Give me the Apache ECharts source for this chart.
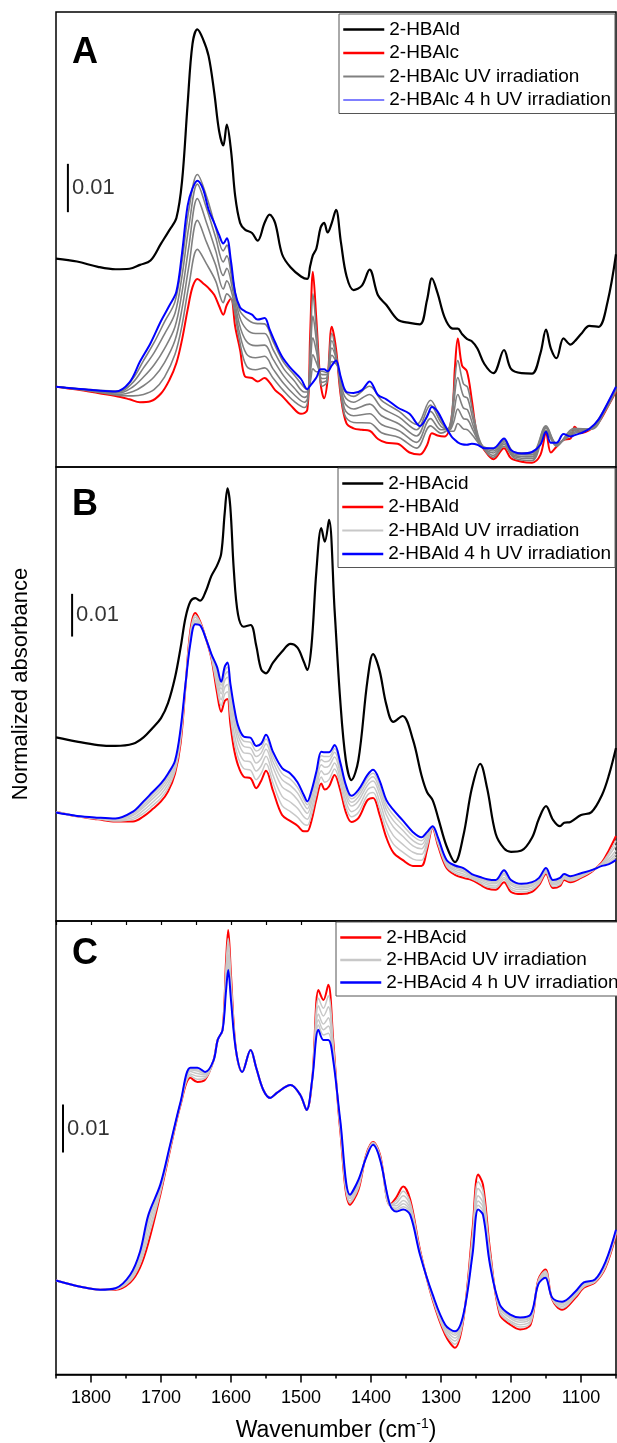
<!DOCTYPE html>
<html>
<head>
<meta charset="utf-8">
<title>UV irradiation spectra</title>
<script src="https://cdn.jsdelivr.net/npm/echarts@6/dist/echarts.min.js"></script>
<style>
  html, body { margin: 0; padding: 0; background: #fff; }
  #chart { width: 617px; height: 1443px; }
</style>
</head>
<body>
<div id="chart"></div>
<script>
// absorbance values are in units of 0.001 (the scale bar is 0.01)
const tickLabels = [1800, 1700, 1600, 1500, 1400, 1300, 1200, 1100];

// panel A
const waveA = [1850, 1820, 1790, 1765, 1745, 1730, 1715, 1700, 1688, 1678, 1670, 1662, 1655, 1648, 1640, 1632, 1624, 1617, 1611, 1606,
  1600, 1594, 1587, 1580, 1570, 1562, 1552, 1545, 1537, 1527, 1515, 1500, 1491, 1487, 1483, 1478, 1472, 1467, 1462, 1456,
  1450, 1443, 1435, 1425, 1413, 1402, 1390, 1378, 1362, 1345, 1330, 1320, 1313, 1305, 1295, 1285, 1280, 1276, 1270, 1263,
  1256, 1248, 1238, 1225, 1210, 1200, 1185, 1170, 1158, 1150, 1143, 1135, 1125, 1115, 1109, 1100, 1088, 1075, 1062, 1050];
const aAld = [43.1, 42.5, 41.4, 40.9, 41.0, 41.8, 42.7, 46.2, 49.0, 51.5, 59.0, 75.0, 87.5, 90.5, 88.5, 85.0, 77.5, 69.5, 66.5, 70.8,
  65.5, 56.0, 50.5, 49.1, 48.4, 46.8, 50.5, 52.2, 50.5, 44.0, 41.3, 39.4, 38.9, 41.5, 43.8, 45.2, 49.5, 50.5, 48.5, 50.5,
  53.2, 46.5, 39.5, 36.6, 37.5, 40.8, 35.5, 33.5, 30.5, 29.8, 29.5, 34.5, 39.0, 36.0, 31.0, 28.7, 28.6, 28.6, 27.5, 26.5,
  26.0, 24.5, 21.3, 19.4, 24.2, 20.3, 19.4, 19.3, 23.5, 28.4, 24.5, 22.5, 26.6, 25.3, 26.0, 27.5, 29.2, 29.0, 34.2, 44.0];
const aAlc = [16.6, 16.0, 15.3, 14.7, 14.0, 13.4, 13.6, 15.2, 18.0, 21.5, 26.3, 32.5, 37.2, 38.9, 38.0, 37.0, 35.6, 33.3, 31.5, 33.5,
  34.8, 29.0, 24.2, 18.7, 18.4, 17.7, 18.4, 17.5, 15.9, 14.7, 12.8, 11.0, 11.8, 27.0, 40.4, 30.4, 17.3, 14.2, 18.0, 29.0,
  24.5, 14.5, 9.0, 8.0, 7.7, 7.5, 5.8, 5.0, 4.8, 3.0, 2.6, 4.5, 7.0, 6.5, 6.3, 10.0, 20.8, 26.6, 21.0, 19.8,
  13.9, 6.3, 3.5, 1.6, 3.9, 1.8, 1.1, 0.9, 2.5, 7.0, 3.0, 4.2, 5.6, 5.9, 8.3, 7.0, 7.6, 9.2, 12.4, 15.6];
const aAlc4h = [16.6, 16.2, 15.8, 15.6, 17.5, 21.8, 25.6, 30.2, 33.4, 36.3, 44.2, 54.0, 57.6, 59.2, 57.5, 53.2, 50.5, 48.0, 46.2, 47.3,
  42.5, 36.0, 33.0, 32.2, 31.5, 30.5, 30.8, 28.5, 25.8, 22.8, 20.5, 18.2, 16.1, 16.8, 17.5, 18.5, 20.2, 20.2, 19.8, 21.0,
  22.0, 18.5, 15.5, 15.3, 15.9, 17.7, 14.9, 14.0, 12.3, 11.0, 8.5, 10.4, 12.4, 11.5, 8.8, 6.3, 5.6, 5.1, 4.7, 4.6,
  4.8, 4.6, 3.9, 3.9, 5.9, 3.5, 2.8, 3.1, 4.6, 7.3, 5.0, 5.0, 6.8, 6.3, 6.6, 7.0, 7.9, 9.8, 13.2, 16.6];

// panel A, intermediate irradiation times
const waveAg = [1850, 1800, 1760, 1740, 1725, 1710, 1695, 1680, 1670, 1660, 1648, 1635, 1622, 1611, 1606, 1598, 1588, 1578, 1565, 1552,
  1540, 1525, 1510, 1495, 1490, 1486, 1483, 1478, 1470, 1463, 1456, 1448, 1438, 1425, 1402, 1385, 1360, 1335, 1315, 1300,
  1288, 1282, 1276, 1268, 1262, 1254, 1243, 1225, 1210, 1195, 1170, 1150, 1135, 1110, 1085, 1065, 1050];
const aUv1 = [16.6, 15.7, 14.8, 14.7, 15.0, 16.0, 18.6, 23.3, 29.3, 37.7, 45.0, 42.0, 38.5, 34.0, 35.8, 34.2, 26.3, 20.9, 20.1, 20.5,
  18.4, 15.8, 13.6, 12.3, 14.0, 27.8, 35.8, 28.4, 16.7, 17.5, 27.6, 21.4, 10.9, 9.2, 9.1, 7.1, 6.1, 3.9, 8.5, 7.0,
  8.3, 15.2, 22.0, 17.2, 16.5, 11.0, 4.9, 2.0, 4.3, 1.8, 1.3, 7.3, 4.3, 8.0, 7.8, 11.7, 15.8];
const aUv2 = [16.6, 15.8, 15.0, 15.6, 16.8, 18.6, 21.6, 26.2, 32.7, 41.7, 51.0, 46.5, 41.8, 36.8, 38.5, 35.5, 27.9, 23.4, 22.6, 22.9,
  20.3, 17.3, 15.0, 13.4, 14.5, 25.3, 31.2, 26.1, 17.5, 18.0, 26.1, 21.3, 12.1, 10.6, 11.0, 8.8, 7.5, 5.1, 10.0, 7.7,
  8.0, 13.1, 18.5, 14.7, 14.2, 9.7, 4.8, 2.4, 4.7, 2.1, 1.7, 7.6, 4.5, 7.8, 7.9, 11.9, 16.0];
const aUv3 = [16.6, 15.9, 15.3, 16.6, 18.6, 21.1, 24.5, 29.0, 36.1, 45.8, 55.5, 50.5, 44.8, 39.6, 41.1, 36.9, 29.5, 26.0, 25.1, 25.2,
  22.3, 18.9, 16.4, 14.4, 15.0, 22.8, 26.7, 23.9, 18.3, 18.5, 24.6, 21.2, 13.4, 12.0, 13.0, 10.6, 8.9, 6.4, 11.5, 8.4,
  7.8, 11.0, 15.0, 12.2, 11.8, 8.5, 4.7, 2.9, 5.0, 2.4, 2.1, 8.0, 4.6, 7.5, 7.9, 12.0, 16.2];
const aUv4 = [16.6, 15.9, 15.5, 17.5, 20.5, 23.6, 27.5, 31.8, 39.5, 49.9, 58.5, 53.5, 47.5, 42.4, 43.7, 38.2, 31.2, 28.5, 27.6, 27.6,
  24.3, 20.4, 17.9, 15.5, 15.5, 20.3, 23.2, 21.6, 19.1, 19.1, 23.1, 21.1, 14.7, 13.4, 15.0, 12.3, 10.3, 7.7, 12.8, 9.2,
  7.6, 9.2, 12.0, 10.0, 9.8, 7.5, 4.6, 3.3, 5.4, 2.7, 2.5, 8.3, 4.8, 7.2, 8.0, 12.2, 16.4];
const aUv5 = [16.6, 16.0, 15.7, 18.3, 22.0, 25.7, 30.0, 34.2, 42.4, 53.4, 60.5, 56.0, 49.5, 44.7, 45.9, 39.3, 32.5, 30.7, 29.7, 29.6,
  26.0, 21.7, 19.1, 16.4, 15.9, 18.2, 20.3, 19.7, 19.8, 19.5, 21.8, 21.0, 15.8, 14.6, 16.7, 13.8, 11.5, 8.8, 13.8, 9.8,
  7.4, 7.4, 9.0, 7.9, 7.7, 6.4, 4.5, 3.7, 5.7, 3.0, 2.9, 8.5, 4.9, 6.9, 8.1, 12.4, 16.5];

// panel B (all curves share this grid)
const waveB = [1850, 1820, 1790, 1765, 1740, 1725, 1712, 1700, 1690, 1680, 1672, 1665, 1658, 1651, 1644, 1636, 1628, 1620, 1614, 1609,
  1605, 1601, 1596, 1590, 1582, 1572, 1564, 1557, 1550, 1540, 1527, 1515, 1505, 1496, 1491, 1485, 1478, 1471, 1466, 1460,
  1452, 1444, 1436, 1428, 1418, 1405, 1397, 1388, 1378, 1368, 1355, 1340, 1328, 1320, 1312, 1304, 1292, 1280, 1268, 1256,
  1244, 1234, 1222, 1210, 1200, 1185, 1170, 1160, 1150, 1140, 1130, 1124, 1115, 1100, 1085, 1070, 1060, 1050];
const bAcid = [43.0, 42.0, 41.2, 41.0, 41.5, 43.0, 45.2, 47.5, 51.0, 57.0, 64.0, 71.0, 74.8, 75.6, 75.0, 77.2, 80.8, 83.2, 86.0, 95.5,
  101.3, 97.0, 82.2, 71.8, 68.9, 69.3, 64.5, 59.0, 58.0, 60.5, 63.1, 64.9, 64.0, 60.7, 58.8, 64.5, 82.0, 92.0, 88.8, 93.9,
  72.8, 51.8, 37.7, 33.0, 37.7, 56.4, 62.5, 58.8, 50.6, 46.6, 48.0, 42.4, 34.2, 30.2, 28.3, 24.1, 17.5, 13.8, 20.0, 31.0,
  36.8, 31.0, 20.5, 17.0, 16.2, 16.5, 19.5, 24.0, 26.9, 23.7, 22.2, 23.0, 23.2, 24.8, 25.5, 29.5, 34.2, 40.5];
const bAld = [25.6, 24.5, 23.8, 23.3, 23.3, 24.5, 26.2, 28.0, 30.3, 34.5, 41.6, 54.9, 68.1, 72.1, 70.1, 66.2, 61.5, 53.5, 49.0, 51.5,
  52.0, 46.3, 40.5, 36.5, 33.8, 33.4, 31.1, 32.8, 35.2, 30.5, 24.8, 23.4, 22.3, 21.0, 21.0, 23.5, 28.5, 32.2, 30.8, 31.5,
  34.2, 30.7, 25.5, 23.2, 24.1, 28.3, 28.8, 25.0, 19.5, 16.0, 14.3, 12.9, 12.9, 16.6, 21.8, 17.5, 12.4, 10.8, 10.1, 9.6,
  8.5, 7.6, 7.3, 9.1, 6.8, 6.3, 6.8, 8.4, 11.0, 7.7, 8.2, 9.6, 9.1, 10.1, 11.5, 13.8, 16.6, 19.9];
const bAld4h = [25.4, 24.6, 24.2, 24.0, 25.6, 28.0, 30.2, 32.2, 34.5, 37.5, 45.0, 55.5, 65.0, 69.5, 69.2, 66.2, 62.5, 59.5, 56.0, 59.5,
  60.5, 55.7, 50.5, 45.8, 43.2, 42.9, 41.0, 41.5, 43.6, 39.6, 35.8, 34.5, 32.5, 29.5, 28.0, 30.5, 35.0, 39.6, 39.5, 39.5,
  41.2, 37.2, 31.9, 29.3, 30.7, 34.2, 35.4, 33.0, 28.3, 26.0, 23.6, 20.8, 19.6, 20.8, 22.2, 19.4, 14.3, 13.0, 12.4, 11.0,
  10.3, 9.8, 9.6, 11.9, 9.6, 8.7, 9.1, 10.1, 12.4, 9.6, 10.1, 11.0, 10.5, 11.2, 11.9, 12.9, 13.3, 14.3];
const bUv1 = [25.6, 24.5, 23.9, 23.4, 23.8, 25.2, 27.0, 28.8, 31.1, 35.1, 42.3, 55.0, 67.5, 71.6, 69.9, 66.2, 61.7, 54.7, 50.4, 53.1,
  53.7, 48.2, 42.5, 38.4, 35.7, 35.3, 33.1, 34.5, 36.9, 32.3, 27.0, 25.6, 24.3, 22.7, 22.4, 24.9, 29.8, 33.7, 32.5, 33.1,
  35.6, 32.0, 26.8, 24.4, 25.4, 29.5, 30.1, 26.6, 21.3, 18.0, 16.2, 14.5, 14.2, 17.4, 21.9, 17.9, 12.8, 11.2, 10.6, 9.9,
  8.9, 8.0, 7.8, 9.7, 7.4, 6.8, 7.3, 8.7, 11.3, 8.1, 8.6, 9.9, 9.4, 10.3, 11.6, 13.6, 15.9, 18.8];
const bUv2 = [25.5, 24.5, 24.0, 23.6, 24.2, 25.9, 27.8, 29.7, 32.0, 35.7, 43.0, 55.1, 66.9, 71.1, 69.7, 66.2, 61.9, 55.9, 51.8, 54.7,
  55.4, 50.1, 44.5, 40.2, 37.6, 37.2, 35.1, 36.3, 38.6, 34.1, 29.2, 27.8, 26.4, 24.4, 23.8, 26.3, 31.1, 35.2, 34.3, 34.7,
  37.0, 33.3, 28.1, 25.6, 26.7, 30.7, 31.4, 28.2, 23.0, 20.0, 18.0, 16.1, 15.6, 18.3, 22.0, 18.3, 13.2, 11.7, 11.0, 10.2,
  9.2, 8.5, 8.2, 10.2, 7.9, 7.3, 7.7, 9.1, 11.6, 8.5, 9.0, 10.2, 9.7, 10.5, 11.7, 13.4, 15.3, 17.7];
const bUv3 = [25.5, 24.6, 24.0, 23.7, 24.7, 26.6, 28.6, 30.5, 32.8, 36.3, 43.6, 55.3, 66.2, 70.5, 69.6, 66.2, 62.1, 57.1, 53.2, 56.3,
  57.1, 51.9, 46.5, 42.1, 39.4, 39.1, 37.0, 38.0, 40.2, 36.0, 31.4, 30.1, 28.4, 26.1, 25.2, 27.7, 32.4, 36.6, 36.0, 36.3,
  38.4, 34.6, 29.3, 26.9, 28.1, 31.8, 32.8, 29.8, 24.8, 22.0, 19.9, 17.6, 16.9, 19.1, 22.0, 18.6, 13.5, 12.1, 11.5, 10.4,
  9.6, 8.9, 8.7, 10.8, 8.5, 7.7, 8.2, 9.4, 11.8, 8.8, 9.3, 10.4, 9.9, 10.8, 11.7, 13.3, 14.6, 16.5];
const bUv4 = [25.5, 24.6, 24.1, 23.8, 25.0, 27.1, 29.2, 31.2, 33.5, 36.8, 44.2, 55.4, 65.8, 70.1, 69.4, 66.2, 62.3, 58.0, 54.3, 57.5,
  58.4, 53.4, 48.0, 43.5, 40.9, 40.5, 38.5, 39.3, 41.5, 37.3, 33.1, 31.7, 30.0, 27.4, 26.3, 28.8, 33.4, 37.8, 37.3, 37.5,
  39.5, 35.6, 30.3, 27.8, 29.1, 32.7, 33.8, 31.0, 26.1, 23.5, 21.3, 18.8, 17.9, 19.8, 22.1, 18.9, 13.8, 12.5, 11.8, 10.7,
  9.9, 9.3, 9.0, 11.2, 8.9, 8.1, 8.5, 9.7, 12.1, 9.1, 9.6, 10.7, 10.2, 10.9, 11.8, 13.1, 14.1, 15.7];
const bUv5 = [25.4, 24.6, 24.2, 23.9, 25.3, 27.6, 29.7, 31.7, 34.0, 37.1, 44.6, 55.4, 65.4, 69.8, 69.3, 66.2, 62.4, 58.8, 55.2, 58.5,
  59.5, 54.6, 49.3, 44.7, 42.1, 41.8, 39.8, 40.5, 42.6, 38.5, 34.5, 33.2, 31.3, 28.5, 27.2, 29.7, 34.2, 38.7, 38.5, 38.5,
  40.4, 36.4, 31.1, 28.6, 29.9, 33.5, 34.6, 32.0, 27.2, 24.8, 22.5, 19.9, 18.8, 20.3, 22.2, 19.2, 14.1, 12.7, 12.1, 10.8,
  10.1, 9.5, 9.3, 11.6, 9.3, 8.4, 8.8, 9.9, 12.2, 9.4, 9.9, 10.8, 10.3, 11.1, 11.9, 13.0, 13.7, 15.0];

// panel C (all curves share this grid)
const waveC = [1850, 1815, 1787, 1765, 1744, 1730, 1718, 1701, 1687, 1672, 1658, 1648, 1637, 1625, 1619, 1612, 1607, 1604, 1600, 1593,
  1584, 1572, 1564, 1554, 1544, 1534, 1515, 1501, 1492, 1484, 1475, 1468, 1461, 1454, 1444, 1430, 1418, 1407, 1397, 1387,
  1373, 1364, 1354, 1344, 1330, 1312, 1294, 1280, 1268, 1255, 1247, 1240, 1230, 1216, 1201, 1187, 1172, 1161, 1151, 1141,
  1127, 1108, 1096, 1080, 1065, 1050];
const cAcid = [19.6, 18.3, 17.7, 17.7, 19.2, 22.3, 27.5, 37.5, 46.9, 56.3, 61.9, 61.0, 61.5, 65.5, 69.8, 71.9, 86.5, 92.7, 83.3, 67.7,
  63.1, 67.7, 64.0, 59.4, 57.7, 58.8, 60.4, 58.3, 55.2, 61.5, 80.2, 78.1, 81.3, 69.8, 51.0, 35.4, 38.5, 45.8, 48.5, 45.8,
  35.4, 36.9, 39.2, 36.5, 26.0, 15.6, 8.3, 5.6, 11.5, 30.2, 41.7, 39.6, 26.0, 12.5, 10.4, 9.4, 10.4, 19.8, 21.9, 15.6,
  13.5, 16.0, 18.1, 19.2, 22.3, 29.2];
const cAcid4h = [19.6, 18.3, 17.7, 18.0, 20.8, 25.6, 33.3, 39.6, 47.9, 56.9, 64.0, 64.0, 63.1, 65.5, 69.8, 71.9, 80.2, 84.4, 78.1, 67.7,
  63.1, 67.7, 64.0, 59.4, 57.7, 58.8, 60.4, 58.3, 55.2, 61.5, 71.9, 69.8, 69.8, 65.6, 53.1, 37.5, 40.6, 45.2, 47.9, 44.8,
  35.4, 34.0, 34.4, 33.3, 25.0, 16.7, 10.4, 9.0, 12.5, 25.0, 34.4, 33.3, 22.9, 14.6, 12.5, 11.9, 12.5, 18.8, 20.2, 16.0,
  15.2, 17.3, 19.2, 19.8, 23.5, 30.2];
const cUv1 = [19.6, 18.3, 17.7, 17.8, 19.5, 23.0, 28.7, 37.9, 47.1, 56.4, 62.3, 61.6, 61.8, 65.5, 69.8, 71.9, 85.2, 91.0, 82.3, 67.7,
  63.1, 67.7, 64.0, 59.4, 57.7, 58.8, 60.4, 58.3, 55.2, 61.5, 78.5, 76.4, 79.0, 69.0, 51.4, 35.8, 38.9, 45.7, 48.4, 45.6,
  35.4, 36.3, 38.2, 35.9, 25.8, 15.8, 8.7, 6.3, 11.7, 29.2, 40.2, 38.3, 25.4, 12.9, 10.8, 9.9, 10.8, 19.6, 21.6, 15.7,
  13.8, 16.3, 18.3, 19.3, 22.5, 29.4];
const cUv2 = [19.6, 18.3, 17.7, 17.8, 19.8, 23.6, 29.8, 38.3, 47.3, 56.5, 62.7, 62.2, 62.1, 65.5, 69.8, 71.9, 84.0, 89.4, 81.2, 67.7,
  63.1, 67.7, 64.0, 59.4, 57.7, 58.8, 60.4, 58.3, 55.2, 61.5, 76.9, 74.8, 76.7, 68.1, 51.8, 36.2, 39.3, 45.6, 48.3, 45.4,
  35.4, 35.7, 37.3, 35.2, 25.6, 16.0, 9.1, 7.0, 11.9, 28.1, 38.8, 37.1, 24.8, 13.3, 11.2, 10.4, 11.2, 19.4, 21.2, 15.8,
  14.2, 16.5, 18.5, 19.4, 22.8, 29.6];
const cUv3 = [19.6, 18.3, 17.7, 17.9, 20.2, 24.3, 31.0, 38.8, 47.5, 56.7, 63.2, 62.8, 62.5, 65.5, 69.8, 71.9, 82.7, 87.7, 80.2, 67.7,
  63.1, 67.7, 64.0, 59.4, 57.7, 58.8, 60.4, 58.3, 55.2, 61.5, 75.2, 73.1, 74.4, 67.3, 52.3, 36.7, 39.8, 45.4, 48.1, 45.2,
  35.4, 35.2, 36.3, 34.6, 25.4, 16.3, 9.6, 7.6, 12.1, 27.1, 37.3, 35.8, 24.1, 13.8, 11.7, 10.9, 11.7, 19.2, 20.9, 15.8,
  14.5, 16.8, 18.8, 19.6, 23.0, 29.8];
const cUv4 = [19.6, 18.3, 17.7, 17.9, 20.4, 24.8, 31.9, 39.1, 47.7, 56.8, 63.5, 63.3, 62.7, 65.5, 69.8, 71.9, 81.8, 86.5, 79.4, 67.7,
  63.1, 67.7, 64.0, 59.4, 57.7, 58.8, 60.4, 58.3, 55.2, 61.5, 74.0, 71.9, 72.7, 66.7, 52.6, 37.0, 40.1, 45.4, 48.1, 45.1,
  35.4, 34.7, 35.6, 34.1, 25.3, 16.4, 9.9, 8.2, 12.3, 26.3, 36.2, 34.9, 23.7, 14.1, 12.0, 11.3, 12.0, 19.1, 20.6, 15.9,
  14.8, 17.0, 18.9, 19.7, 23.2, 30.0];
const cUv5 = [19.6, 18.3, 17.7, 18.0, 20.6, 25.2, 32.6, 39.3, 47.8, 56.8, 63.7, 63.6, 62.9, 65.5, 69.8, 71.9, 81.0, 85.4, 78.7, 67.7,
  63.1, 67.7, 64.0, 59.4, 57.7, 58.8, 60.4, 58.3, 55.2, 61.5, 72.9, 70.8, 71.2, 66.1, 52.8, 37.2, 40.3, 45.3, 48.0, 44.9,
  35.4, 34.3, 35.0, 33.7, 25.1, 16.6, 10.1, 8.6, 12.4, 25.6, 35.3, 34.1, 23.3, 14.3, 12.2, 11.6, 12.2, 18.9, 20.4, 16.0,
  15.0, 17.1, 19.1, 19.7, 23.4, 30.1];

// 0.01 scale bars: [wavenumber, lower end]
const barA = [1833, 52.7];
const barB = [1827, 66.6];
const barC = [1840, 46.3];
const yMax = [94.1, 106.3, 94.6];

const FONT = 'Liberation Sans, Arial, sans-serif';

function spectrum(name, wave, vals, panel, color, width) {
  return {
    type: 'line', name: name, xAxisIndex: panel, yAxisIndex: panel,
    data: wave.map(function (w, i) { return [w, vals[i]]; }),
    symbol: 'none', smooth: 0.35, silent: true,
    lineStyle: { color: color, width: width }, itemStyle: { color: color }
  };
}

function scaleBar(panel, bar) {
  return [{
    type: 'line', xAxisIndex: panel, yAxisIndex: panel, symbol: 'none', silent: true,
    data: [[bar[0], bar[1]], [bar[0], bar[1] + 10]],
    lineStyle: { color: '#000', width: 2 }
  }, {
    type: 'scatter', xAxisIndex: panel, yAxisIndex: panel, symbolSize: 0, silent: true,
    data: [[bar[0], bar[1] + 5]],
    label: { show: true, position: 'right', distance: 4, formatter: '0.01', fontSize: 22, color: '#000', fontFamily: FONT }
  }];
}

const GREY_A = '#808080', GREY = '#c8c8c8';
const series = [].concat(
  spectrum('A|2-HBAlc', waveA, aAlc, 0, '#ff0000', 2),
  [aUv1, aUv2, aUv3, aUv4, aUv5].map(function (v) { return spectrum('A|2-HBAlc UV irradiation', waveAg, v, 0, GREY_A, 1.6); }),
  spectrum('A|2-HBAlc 4 h UV irradiation', waveA, aAlc4h, 0, '#0000ff', 2),
  spectrum('A|2-HBAld', waveA, aAld, 0, '#000000', 2.2),
  spectrum('B|2-HBAld', waveB, bAld, 1, '#ff0000', 2),
  [bUv1, bUv2, bUv3, bUv4, bUv5].map(function (v) { return spectrum('B|2-HBAld UV irradiation', waveB, v, 1, GREY, 1.5); }),
  spectrum('B|2-HBAld 4 h UV irradiation', waveB, bAld4h, 1, '#0000ff', 2),
  spectrum('B|2-HBAcid', waveB, bAcid, 1, '#000000', 2.2),
  spectrum('C|2-HBAcid', waveC, cAcid, 2, '#ff0000', 2),
  [cUv1, cUv2, cUv3, cUv4, cUv5].map(function (v) { return spectrum('C|2-HBAcid UV irradiation', waveC, v, 2, GREY, 1.5); }),
  spectrum('C|2-HBAcid 4 h UV irradiation', waveC, cAcid4h, 2, '#0000ff', 2),
  scaleBar(0, barA), scaleBar(1, barB), scaleBar(2, barC)
);

function legendFor(top, left, gap, items) {
  return {
    orient: 'vertical', left: left, top: top,
    data: items, itemWidth: 41, itemHeight: 12, itemGap: gap,
    padding: [6, 4, 4, 3], borderColor: '#555', borderWidth: 1,
    backgroundColor: '#fff', selectedMode: false,
    itemStyle: { opacity: 0 },
    textStyle: { fontSize: 19, color: '#000', fontFamily: FONT },
    formatter: function (name) { return name.split('|')[1]; }
  };
}

const xHidden = function (i) {
  return { gridIndex: i, type: 'value', min: 1050, max: 1850, inverse: true, show: false };
};
const letter = function (t, top) {
  return { text: t, left: 72, top: top, padding: 0, textStyle: { fontSize: 36, fontWeight: 'bold', color: '#000', fontFamily: FONT } };
};

const chart = echarts.init(document.getElementById('chart'), null, { renderer: 'canvas' });
chart.setOption({
  animation: false,
  backgroundColor: '#fff',
  textStyle: { fontFamily: FONT },
  title: [letter('A', 35), letter('B', 487), letter('C', 936)],
  graphic: [{
    type: 'text', x: 21, y: 684, rotation: Math.PI / 2, silent: true,
    style: { text: 'Normalized absorbance', fontSize: 22, fill: '#000', fontFamily: FONT, align: 'center', verticalAlign: 'middle' }
  }],
  grid: [
    { left: 56, right: 1, top: 12, height: 455, show: true, borderColor: '#000', borderWidth: 1.5 },
    { left: 56, right: 1, top: 467, height: 454, show: true, borderColor: '#000', borderWidth: 1.5 },
    { left: 56, right: 1, top: 921, height: 454, show: true, borderColor: '#000', borderWidth: 1.5 }
  ],
  xAxis: [
    xHidden(0), xHidden(1),
    {
      gridIndex: 2, type: 'value', min: 1050, max: 1850, inverse: true, position: 'bottom',
      axisLine: { show: true, lineStyle: { color: '#000', width: 1.5 } },
      axisTick: { show: true, length: 8, customValues: tickLabels, lineStyle: { color: '#000', width: 1.5 } },
      axisLabel: { customValues: tickLabels, fontSize: 18, color: '#000', margin: 15, fontFamily: FONT,
        formatter: function (v) { return String(v); } },
      splitLine: { show: false },
      name: 'Wavenumber (cm{sup|-1})', nameLocation: 'middle', nameGap: 43,
      nameTextStyle: { fontSize: 23, color: '#000', fontFamily: FONT,
        rich: { sup: { fontSize: 14, color: '#000', fontFamily: FONT, padding: [0, 0, 12, 0] } } }
    },
    {
      gridIndex: 2, type: 'value', min: 1050, max: 1850, interval: 50, inverse: true, position: 'bottom',
      axisLine: { show: false }, axisLabel: { show: false }, splitLine: { show: false },
      axisTick: { show: true, length: 4, lineStyle: { color: '#000', width: 1.5 } }
    },
    {
      gridIndex: 2, type: 'value', min: 1050, max: 1850, interval: 50, inverse: true, position: 'top',
      axisLine: { show: false }, axisLabel: { show: false }, splitLine: { show: false },
      axisTick: { show: true, inside: true, length: 4, lineStyle: { color: '#000', width: 1.2 } }
    }
  ],
  yAxis: [
    { gridIndex: 0, type: 'value', min: 0, max: yMax[0], show: false },
    { gridIndex: 1, type: 'value', min: 0, max: yMax[1], show: false },
    { gridIndex: 2, type: 'value', min: 0, max: yMax[2], show: false }
  ],
  legend: [
    legendFor(14, 339, 4.5, [
      { name: 'A|2-HBAld', lineStyle: { width: 2.5 } },
      { name: 'A|2-HBAlc', lineStyle: { width: 2.5 } },
      { name: 'A|2-HBAlc UV irradiation', lineStyle: { width: 2 } },
      { name: 'A|2-HBAlc 4 h UV irradiation', lineStyle: { width: 1 } }
    ]),
    legendFor(468, 338, 4.5, [
      { name: 'B|2-HBAcid', lineStyle: { width: 2.5 } },
      { name: 'B|2-HBAld', lineStyle: { width: 2.5 } },
      { name: 'B|2-HBAld UV irradiation', lineStyle: { width: 2 } },
      { name: 'B|2-HBAld 4 h UV irradiation', lineStyle: { width: 2.5 } }
    ]),
    legendFor(922, 336, 3.5, [
      { name: 'C|2-HBAcid', lineStyle: { width: 2.5 } },
      { name: 'C|2-HBAcid UV irradiation', lineStyle: { width: 2.5 } },
      { name: 'C|2-HBAcid 4 h UV irradiation', lineStyle: { width: 2.5 } }
    ])
  ],
  series: series
});
</script>
</body>
</html>
